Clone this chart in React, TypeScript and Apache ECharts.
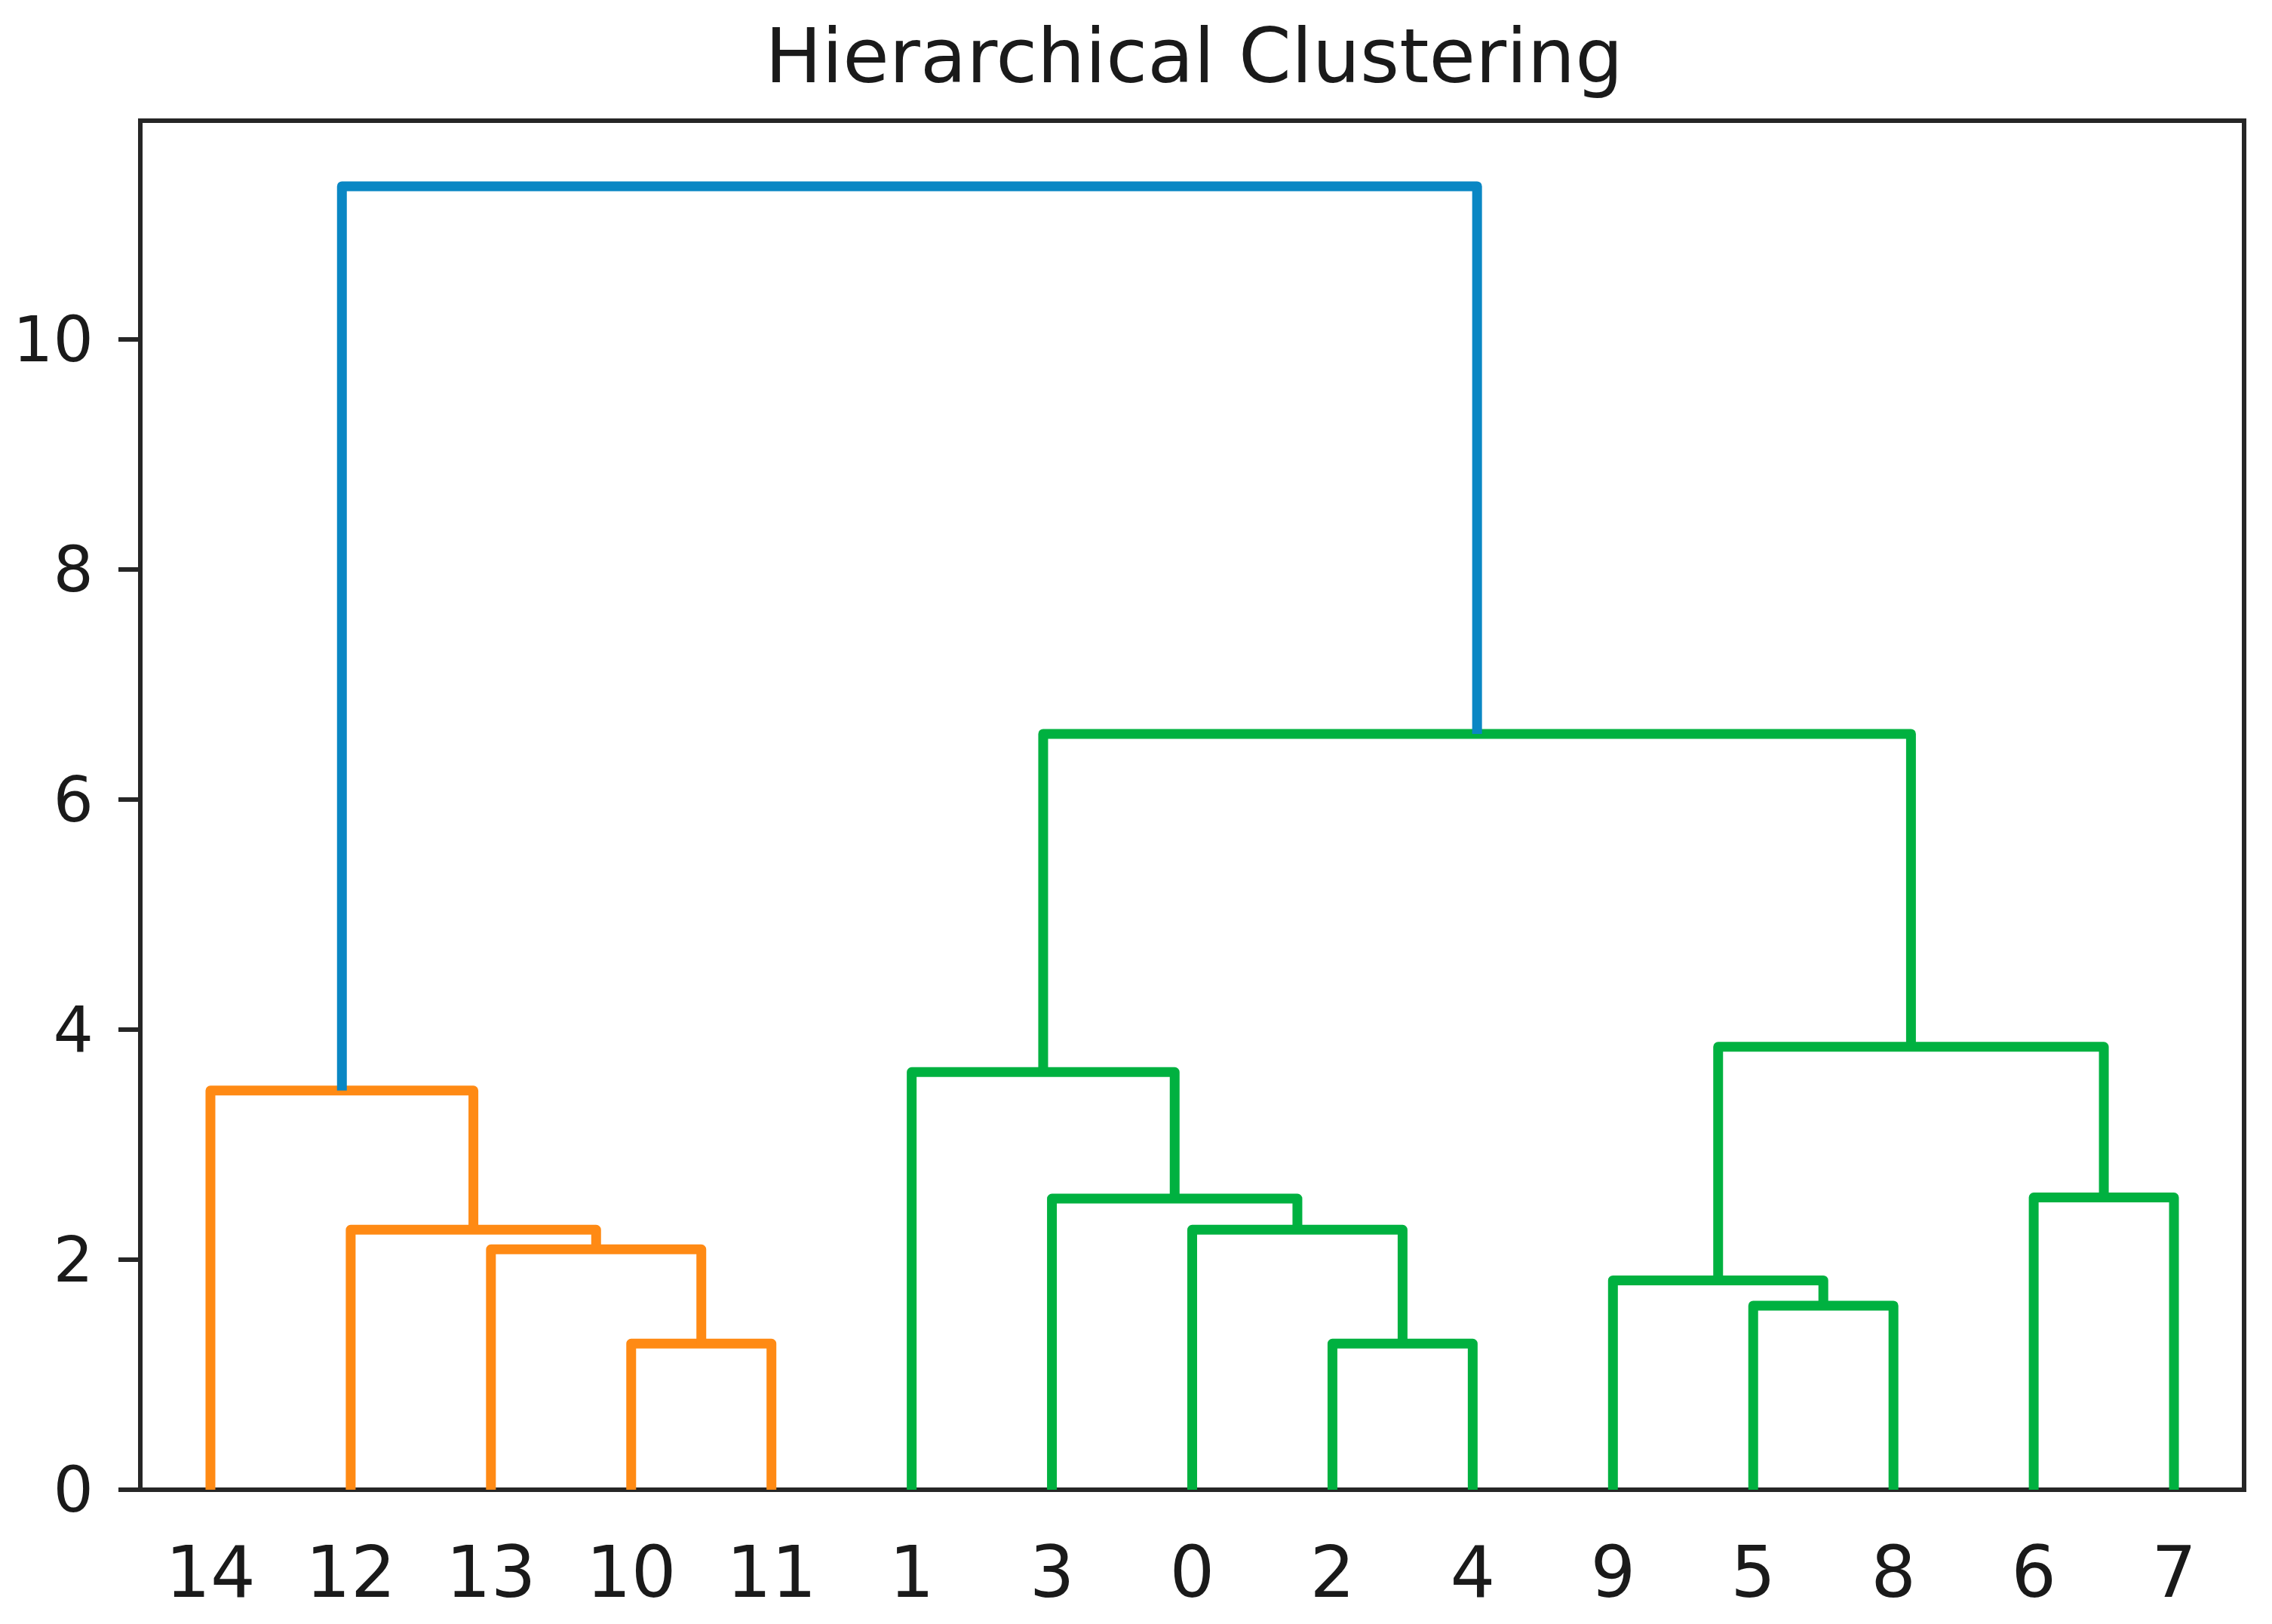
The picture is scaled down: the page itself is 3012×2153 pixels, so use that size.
import React, { useEffect, useRef } from 'react';
import * as echarts from 'echarts';

// Leaf order along the x axis (dendrogram order)
const leafLabels = ['14', '12', '13', '10', '11', '1', '3', '0', '2', '4', '9', '5', '8', '6', '7'];

// Merges: id, left child, right child, merge height, cluster colour
const mergeIds = ['A', 'B', 'C', 'D', 'E', 'F', 'G', 'H', 'I', 'J', 'K', 'L', 'M', 'N'];
const mergeLeft = ['10', '13', '12', '14', '2', '0', '3', '1', '5', '9', '6', 'J', 'H', 'D'];
const mergeRight = ['11', 'A', 'B', 'C', '4', 'E', 'F', 'G', '8', 'I', '7', 'K', 'L', 'M'];
const mergeHeights = [1.27, 2.09, 2.26, 3.47, 1.27, 2.26, 2.53, 3.63, 1.6, 1.82, 2.54, 3.85, 6.57, 11.33];
const mergeCluster = ['o', 'o', 'o', 'o', 'g', 'g', 'g', 'g', 'g', 'g', 'g', 'g', 'g', 'b'];

const yTicks = [0, 2, 4, 6, 8, 10];
const yMax = 11.9;

const clusterColors: Record<string, string> = { o: '#ff8a14', g: '#00b140', b: '#0a87c4' };
const textColor = '#1a1a1a';
const frameColor = '#262626';
const font = 'DejaVu Sans';

export default function App() {
  const ref = useRef<HTMLDivElement>(null);
  useEffect(() => {
    const chart = echarts.init(ref.current!, null, { renderer: 'svg' });
    const pos: Record<string, { x: number; y: number }> = {};
    leafLabels.forEach((l, i) => {
      pos[l] = { x: 5 + 10 * i, y: 0 };
    });
    const series = mergeIds.map((id, k) => {
      const a = pos[mergeLeft[k]];
      const b = pos[mergeRight[k]];
      const h = mergeHeights[k];
      pos[id] = { x: (a.x + b.x) / 2, y: h };
      return {
        type: 'line',
        data: [
          [a.x, a.y],
          [a.x, h],
          [b.x, h],
          [b.x, b.y],
        ],
        symbol: 'none',
        showSymbol: false,
        silent: true,
        clip: false,
        lineStyle: { color: clusterColors[mergeCluster[k]], width: 13, join: 'round', cap: 'butt' },
        z: 2,
      };
    });
    const leafPositions = leafLabels.map((_, i) => 5 + 10 * i);
    chart.setOption({
      animation: false,
      backgroundColor: '#ffffff',
      title: {
        text: 'Hierarchical Clustering',
        left: 1578,
        textAlign: 'center',
        top: 19,
        textStyle: { fontSize: 100, fontWeight: 'normal', color: textColor, fontFamily: font },
      },
      grid: {
        left: 186,
        right: 37,
        top: 160,
        bottom: 178,
        show: true,
        borderColor: frameColor,
        borderWidth: 6,
        backgroundColor: 'transparent',
      },
      xAxis: {
        type: 'value',
        min: 0,
        max: 150,
        axisLine: { show: false },
        axisTick: { show: false },
        splitLine: { show: false },
        axisLabel: {
          customValues: leafPositions,
          formatter: (v: number) => leafLabels[Math.round((v - 5) / 10)],
          fontSize: 94,
          color: textColor,
          fontFamily: font,
          margin: 62,
        },
      },
      yAxis: {
        type: 'value',
        min: 0,
        max: yMax,
        axisLine: { show: false },
        splitLine: { show: false },
        axisTick: {
          show: true,
          length: 29,
          customValues: yTicks,
          lineStyle: { width: 6, color: frameColor },
        },
        axisLabel: {
          customValues: yTicks,
          fontSize: 84,
          color: textColor,
          fontFamily: font,
          margin: 62,
        },
      },
      series,
    });
    return () => chart.dispose();
  }, []);
  return <div ref={ref} style={{ position: 'absolute', left: 0, top: 0, width: 3012, height: 2153 }} />;
}
